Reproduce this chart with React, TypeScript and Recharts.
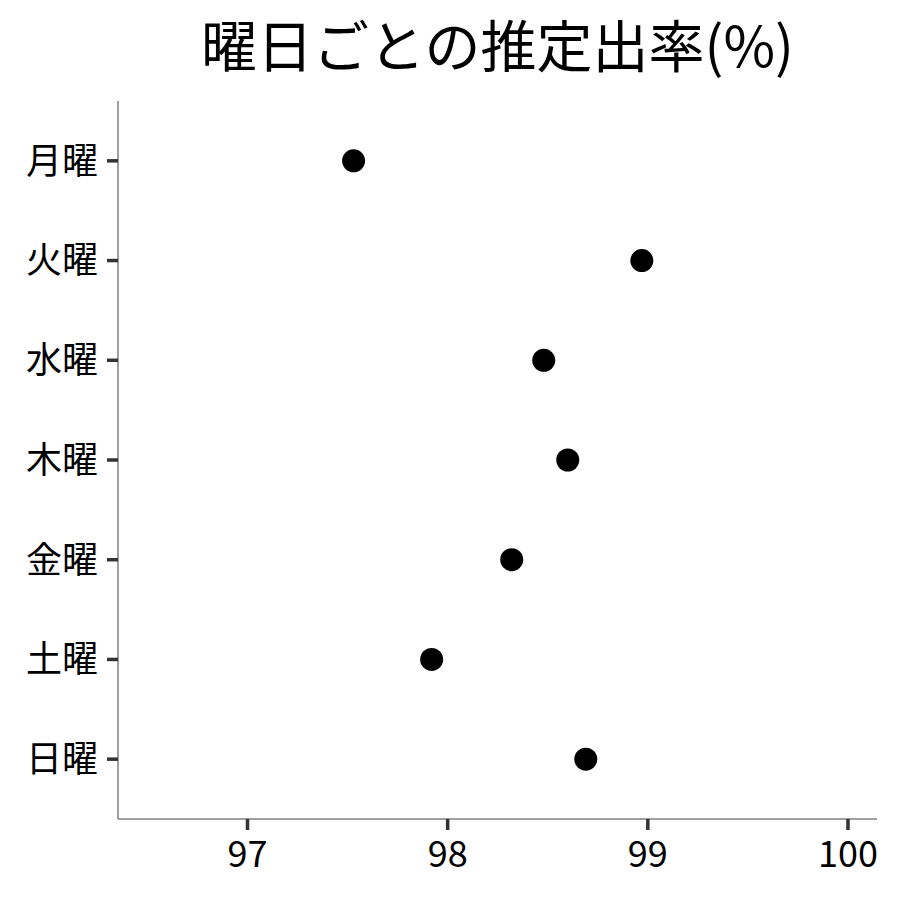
import { Scatter, ScatterChart, XAxis, YAxis } from 'recharts'

const days = ['月曜', '火曜', '水曜', '木曜', '金曜', '土曜', '日曜']
const rates = [97.53, 98.97, 98.48, 98.6, 98.32, 97.92, 98.69]
const xTicks = [97, 98, 99, 100]
const yTicks = [1, 2, 3, 4, 5, 6, 7]

const data = days.map((day, i) => ({ day, pos: i + 1, rate: rates[i] }))

const font = '"Noto Sans CJK JP", "Noto Sans", sans-serif'
const tickStyle = { fontSize: 36, fill: '#000', fontFamily: font }
const axisLineStyle = { stroke: '#808080', strokeWidth: 1.5 }
const tickLineStyle = { stroke: '#333333', strokeWidth: 3.5 }

export default function App() {
  return (
    <div style={{ position: 'relative', width: 884, height: 884, fontFamily: font }}>
      <style>{'.recharts-cartesian-axis-tick-line { stroke: #333333; stroke-width: 3.5px; }'}</style>
      <div
        style={{
          position: 'absolute',
          left: 110,
          width: 759,
          top: 7,
          textAlign: 'center',
          fontSize: 56,
          lineHeight: 1,
          color: '#000',
        }}
      >
        曜日ごとの推定出率(%)
      </div>
      <ScatterChart width={884} height={884} margin={{ top: 93, right: 15, bottom: 13, left: 0 }}>
        <XAxis
          type="number"
          dataKey="rate"
          domain={[96.353, 100.145]}
          ticks={xTicks}
          allowDataOverflow
          height={60}
          tick={tickStyle}
          tickSize={11}
          tickMargin={11}
          axisLine={axisLineStyle}
          tickLine={tickLineStyle}
        />
        <YAxis
          type="number"
          dataKey="pos"
          domain={[0.4, 7.6]}
          ticks={yTicks}
          reversed
          allowDataOverflow
          width={110}
          tick={tickStyle}
          tickSize={11}
          tickMargin={9}
          tickFormatter={(v) => days[v - 1] ?? ''}
          axisLine={axisLineStyle}
          tickLine={tickLineStyle}
        />
        <Scatter
          data={data}
          fill="#000"
          isAnimationActive={false}
          shape={(props: any) => <circle cx={props.cx} cy={props.cy} r={11.5} fill="#000" />}
        />
      </ScatterChart>
    </div>
  )
}
